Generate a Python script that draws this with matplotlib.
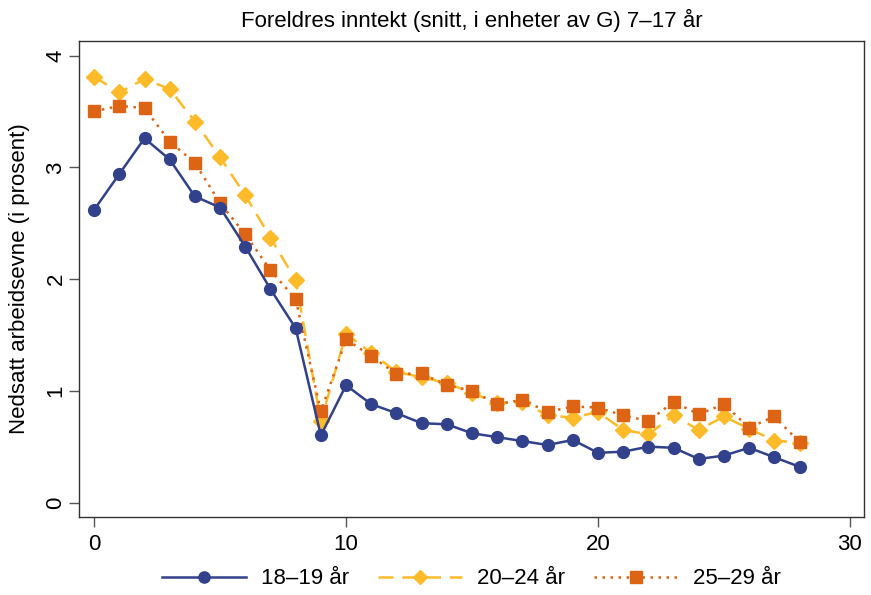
import numpy as np
import matplotlib
matplotlib.use('Agg')
import matplotlib.pyplot as plt

plt.rcParams['font.family'] = ['Liberation Sans', 'DejaVu Sans']

# parents' income, years 0-28
x = np.arange(29)

age_18_19 = [2.62, 2.94, 3.26, 3.07, 2.74, 2.64, 2.29, 1.91, 1.56, 0.60,
             1.05, 0.88, 0.80, 0.71, 0.70, 0.62, 0.585, 0.55, 0.515, 0.56,
             0.445, 0.455, 0.50, 0.49, 0.39, 0.42, 0.49, 0.405, 0.32]
age_20_24 = [3.81, 3.67, 3.79, 3.70, 3.41, 3.09, 2.75, 2.37, 1.99, 0.73,
             1.51, 1.34, 1.17, 1.12, 1.07, 0.98, 0.89, 0.90, 0.78, 0.76,
             0.81, 0.65, 0.61, 0.78, 0.65, 0.77, 0.66, 0.555, 0.535]
age_25_29 = [3.50, 3.55, 3.53, 3.23, 3.04, 2.68, 2.40, 2.08, 1.82, 0.815,
             1.46, 1.31, 1.15, 1.155, 1.05, 1.00, 0.88, 0.92, 0.81, 0.86,
             0.85, 0.78, 0.73, 0.90, 0.79, 0.88, 0.67, 0.77, 0.54]

labels = ['18\u201319 år', '20\u201324 år', '25\u201329 år']

fig = plt.figure(figsize=(8.71, 5.95), dpi=100)
ax = fig.add_axes([0.0907, 0.131, 0.901, 0.800])

ax.plot(x, age_18_19, color='#31418B', lw=1.8, ls='-', marker='o',
        markersize=8.5, label=labels[0], zorder=3)
ax.plot(x, age_20_24, color='#FDBB2A', lw=1.8, ls=(0, (6, 3.5)), marker='D',
        markersize=8, label=labels[1], zorder=2)
ax.plot(x, age_25_29, color='#DE6415', lw=1.8, ls=(0, (1, 2.2)), marker='s',
        markersize=8.5, label=labels[2], zorder=2)

ax.set_xlim(-0.6, 30.55)
ax.set_ylim(-0.13, 4.13)
ax.set_xticks([0, 10, 20, 30])
ax.set_yticks([0, 1, 2, 3, 4])
ax.tick_params(axis='both', direction='out', length=7, width=1, labelsize=16,
               color='#555555')
ax.tick_params(axis='x', pad=5)
ax.tick_params(axis='y', pad=2)
for lbl in ax.get_yticklabels():
    lbl.set_rotation(90)
    lbl.set_va('center')
for s in ax.spines.values():
    s.set_color('#333333')
    s.set_linewidth(1)

ax.set_ylabel('Nedsatt arbeidsevne (i prosent)', fontsize=16, labelpad=11)
ax.set_title('Foreldres inntekt (snitt, i enheter av G) 7\u201317 år',
             fontsize=16, pad=10)

# legend centred under the plot area
leg = ax.legend(loc='center', bbox_to_anchor=(0.5, -0.130), ncol=3,
                frameon=False, fontsize=16, handlelength=3.8,
                markerscale=0.95, columnspacing=1.3, handletextpad=0.66)

fig.savefig('out.png', dpi=100)
